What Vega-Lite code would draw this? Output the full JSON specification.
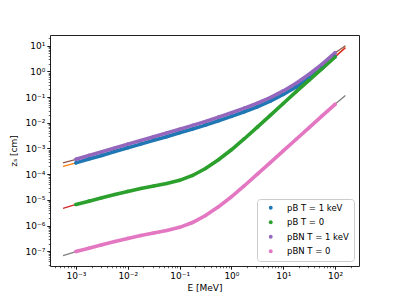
{
  "$schema": "https://vega.github.io/schema/vega-lite/v6.json",
  "width": 309,
  "height": 231,
  "autosize": {"type": "none"},
  "padding": {"left": 50, "top": 35, "right": 40, "bottom": 33},
  "background": "white",
  "config": {
    "font": "DejaVu Sans",
    "view": {"stroke": "#222222", "strokeWidth": 1},
    "axis": {
      "domain": false,
      "grid": false,
      "tickColor": "#000000",
      "labelColor": "#000000",
      "titleColor": "#000000",
      "labelFont": "DejaVu Sans",
      "titleFont": "DejaVu Sans",
      "labelFontSize": 9,
      "titleFontSize": 9,
      "titleFontWeight": "normal",
      "labelOverlap": false,
      "labelBound": false,
      "labelFlush": false
    },
    "legend": {
      "orient": "bottom-right",
      "offset": 5,
      "strokeColor": "#cccccc",
      "fillColor": "white",
      "cornerRadius": 3,
      "padding": 4.5,
      "symbolOffset": 5,
      "symbolType": "circle",
      "symbolSize": 15,
      "symbolStrokeWidth": 0,
      "labelFont": "DejaVu Sans",
      "labelFontSize": 8.5,
      "labelColor": "#000000",
      "rowPadding": 5.5,
      "labelOffset": 12
    }
  },
  "datasets": {
    "dots": [
      {"s": "pB T = 1 keV", "E": 0.001, "z": 2.754e-4},
      {"s": "pB T = 1 keV", "E": 0.001778, "z": 3.890e-4},
      {"s": "pB T = 1 keV", "E": 0.003162, "z": 5.370e-4},
      {"s": "pB T = 1 keV", "E": 0.005623, "z": 7.586e-4},
      {"s": "pB T = 1 keV", "E": 0.01, "z": 1.072e-3},
      {"s": "pB T = 1 keV", "E": 0.01778, "z": 1.479e-3},
      {"s": "pB T = 1 keV", "E": 0.03162, "z": 2.089e-3},
      {"s": "pB T = 1 keV", "E": 0.05623, "z": 2.884e-3},
      {"s": "pB T = 1 keV", "E": 0.1, "z": 4.074e-3},
      {"s": "pB T = 1 keV", "E": 0.1778, "z": 5.754e-3},
      {"s": "pB T = 1 keV", "E": 0.3162, "z": 8.128e-3},
      {"s": "pB T = 1 keV", "E": 0.5623, "z": 1.202e-2},
      {"s": "pB T = 1 keV", "E": 1, "z": 1.778e-2},
      {"s": "pB T = 1 keV", "E": 1.778, "z": 2.692e-2},
      {"s": "pB T = 1 keV", "E": 3.162, "z": 4.169e-2},
      {"s": "pB T = 1 keV", "E": 5.623, "z": 6.918e-2},
      {"s": "pB T = 1 keV", "E": 10, "z": 0.1259},
      {"s": "pB T = 1 keV", "E": 17.78, "z": 0.2455},
      {"s": "pB T = 1 keV", "E": 31.62, "z": 0.5370},
      {"s": "pB T = 1 keV", "E": 56.23, "z": 1.349},
      {"s": "pB T = 1 keV", "E": 100, "z": 3.802},
      {"s": "pB T = 0", "E": 0.001, "z": 6.607e-6},
      {"s": "pB T = 0", "E": 0.001778, "z": 8.913e-6},
      {"s": "pB T = 0", "E": 0.003162, "z": 1.202e-5},
      {"s": "pB T = 0", "E": 0.005623, "z": 1.622e-5},
      {"s": "pB T = 0", "E": 0.01, "z": 2.138e-5},
      {"s": "pB T = 0", "E": 0.01778, "z": 2.754e-5},
      {"s": "pB T = 0", "E": 0.03162, "z": 3.467e-5},
      {"s": "pB T = 0", "E": 0.05623, "z": 4.365e-5},
      {"s": "pB T = 0", "E": 0.1, "z": 5.754e-5},
      {"s": "pB T = 0", "E": 0.1778, "z": 8.913e-5},
      {"s": "pB T = 0", "E": 0.3162, "z": 1.660e-4},
      {"s": "pB T = 0", "E": 0.5623, "z": 3.631e-4},
      {"s": "pB T = 0", "E": 1, "z": 8.913e-4},
      {"s": "pB T = 0", "E": 1.778, "z": 2.399e-3},
      {"s": "pB T = 0", "E": 3.162, "z": 6.761e-3},
      {"s": "pB T = 0", "E": 5.623, "z": 1.950e-2},
      {"s": "pB T = 0", "E": 10, "z": 5.623e-2},
      {"s": "pB T = 0", "E": 17.78, "z": 0.1622},
      {"s": "pB T = 0", "E": 31.62, "z": 0.4571},
      {"s": "pB T = 0", "E": 56.23, "z": 1.288},
      {"s": "pB T = 0", "E": 100, "z": 3.631},
      {"s": "pBN T = 1 keV", "E": 0.001, "z": 3.802e-4},
      {"s": "pBN T = 1 keV", "E": 0.001778, "z": 5.370e-4},
      {"s": "pBN T = 1 keV", "E": 0.003162, "z": 7.413e-4},
      {"s": "pBN T = 1 keV", "E": 0.005623, "z": 1.047e-3},
      {"s": "pBN T = 1 keV", "E": 0.01, "z": 1.479e-3},
      {"s": "pBN T = 1 keV", "E": 0.01778, "z": 2.042e-3},
      {"s": "pBN T = 1 keV", "E": 0.03162, "z": 2.884e-3},
      {"s": "pBN T = 1 keV", "E": 0.05623, "z": 3.981e-3},
      {"s": "pBN T = 1 keV", "E": 0.1, "z": 5.623e-3},
      {"s": "pBN T = 1 keV", "E": 0.1778, "z": 7.943e-3},
      {"s": "pBN T = 1 keV", "E": 0.3162, "z": 1.122e-2},
      {"s": "pBN T = 1 keV", "E": 0.5623, "z": 1.660e-2},
      {"s": "pBN T = 1 keV", "E": 1, "z": 2.455e-2},
      {"s": "pBN T = 1 keV", "E": 1.778, "z": 3.715e-2},
      {"s": "pBN T = 1 keV", "E": 3.162, "z": 5.754e-2},
      {"s": "pBN T = 1 keV", "E": 5.623, "z": 9.550e-2},
      {"s": "pBN T = 1 keV", "E": 10, "z": 0.1738},
      {"s": "pBN T = 1 keV", "E": 17.78, "z": 0.3467},
      {"s": "pBN T = 1 keV", "E": 31.62, "z": 0.7762},
      {"s": "pBN T = 1 keV", "E": 56.23, "z": 1.905},
      {"s": "pBN T = 1 keV", "E": 100, "z": 5.248},
      {"s": "pBN T = 0", "E": 0.001, "z": 9.772e-8},
      {"s": "pBN T = 0", "E": 0.001778, "z": 1.318e-7},
      {"s": "pBN T = 0", "E": 0.003162, "z": 1.778e-7},
      {"s": "pBN T = 0", "E": 0.005623, "z": 2.399e-7},
      {"s": "pBN T = 0", "E": 0.01, "z": 3.162e-7},
      {"s": "pBN T = 0", "E": 0.01778, "z": 4.074e-7},
      {"s": "pBN T = 0", "E": 0.03162, "z": 5.129e-7},
      {"s": "pBN T = 0", "E": 0.05623, "z": 6.457e-7},
      {"s": "pBN T = 0", "E": 0.1, "z": 8.511e-7},
      {"s": "pBN T = 0", "E": 0.1778, "z": 1.318e-6},
      {"s": "pBN T = 0", "E": 0.3162, "z": 2.455e-6},
      {"s": "pBN T = 0", "E": 0.5623, "z": 5.370e-6},
      {"s": "pBN T = 0", "E": 1, "z": 1.318e-5},
      {"s": "pBN T = 0", "E": 1.778, "z": 3.548e-5},
      {"s": "pBN T = 0", "E": 3.162, "z": 1.0e-4},
      {"s": "pBN T = 0", "E": 5.623, "z": 2.818e-4},
      {"s": "pBN T = 0", "E": 10, "z": 8.128e-4},
      {"s": "pBN T = 0", "E": 17.78, "z": 2.291e-3},
      {"s": "pBN T = 0", "E": 31.62, "z": 6.457e-3},
      {"s": "pBN T = 0", "E": 56.23, "z": 1.862e-2},
      {"s": "pBN T = 0", "E": 100, "z": 5.248e-2}
    ],
    "model": [
      {"m": "fit pB T = 1 keV", "E": 0.000562, "z": 1.995e-4},
      {"m": "fit pB T = 1 keV", "E": 0.001, "z": 2.754e-4},
      {"m": "fit pB T = 1 keV", "E": 0.01, "z": 1.072e-3},
      {"m": "fit pB T = 1 keV", "E": 0.1, "z": 4.074e-3},
      {"m": "fit pB T = 1 keV", "E": 0.3162, "z": 8.128e-3},
      {"m": "fit pB T = 1 keV", "E": 1, "z": 1.778e-2},
      {"m": "fit pB T = 1 keV", "E": 3.162, "z": 4.169e-2},
      {"m": "fit pB T = 1 keV", "E": 10, "z": 0.1259},
      {"m": "fit pB T = 1 keV", "E": 31.62, "z": 0.5370},
      {"m": "fit pB T = 1 keV", "E": 100, "z": 3.802},
      {"m": "fit pB T = 1 keV", "E": 158.5, "z": 8.511},
      {"m": "fit pB T = 0", "E": 0.000562, "z": 4.677e-6},
      {"m": "fit pB T = 0", "E": 0.001, "z": 6.607e-6},
      {"m": "fit pB T = 0", "E": 0.01, "z": 2.138e-5},
      {"m": "fit pB T = 0", "E": 0.1, "z": 5.754e-5},
      {"m": "fit pB T = 0", "E": 0.3162, "z": 1.660e-4},
      {"m": "fit pB T = 0", "E": 1, "z": 8.913e-4},
      {"m": "fit pB T = 0", "E": 3.162, "z": 6.761e-3},
      {"m": "fit pB T = 0", "E": 10, "z": 5.623e-2},
      {"m": "fit pB T = 0", "E": 31.62, "z": 0.4571},
      {"m": "fit pB T = 0", "E": 100, "z": 3.631},
      {"m": "fit pB T = 0", "E": 158.5, "z": 8.318},
      {"m": "fit pBN T = 1 keV", "E": 0.000562, "z": 2.754e-4},
      {"m": "fit pBN T = 1 keV", "E": 0.001, "z": 3.802e-4},
      {"m": "fit pBN T = 1 keV", "E": 0.01, "z": 1.479e-3},
      {"m": "fit pBN T = 1 keV", "E": 0.1, "z": 5.623e-3},
      {"m": "fit pBN T = 1 keV", "E": 0.3162, "z": 1.122e-2},
      {"m": "fit pBN T = 1 keV", "E": 1, "z": 2.455e-2},
      {"m": "fit pBN T = 1 keV", "E": 3.162, "z": 5.754e-2},
      {"m": "fit pBN T = 1 keV", "E": 10, "z": 0.1738},
      {"m": "fit pBN T = 1 keV", "E": 31.62, "z": 0.7762},
      {"m": "fit pBN T = 1 keV", "E": 100, "z": 5.248},
      {"m": "fit pBN T = 1 keV", "E": 158.5, "z": 10.0},
      {"m": "fit pBN T = 0", "E": 0.000562, "z": 6.761e-8},
      {"m": "fit pBN T = 0", "E": 0.001, "z": 9.772e-8},
      {"m": "fit pBN T = 0", "E": 0.01, "z": 3.162e-7},
      {"m": "fit pBN T = 0", "E": 0.1, "z": 8.511e-7},
      {"m": "fit pBN T = 0", "E": 0.3162, "z": 2.455e-6},
      {"m": "fit pBN T = 0", "E": 1, "z": 1.318e-5},
      {"m": "fit pBN T = 0", "E": 3.162, "z": 1.0e-4},
      {"m": "fit pBN T = 0", "E": 10, "z": 8.128e-4},
      {"m": "fit pBN T = 0", "E": 31.62, "z": 6.457e-3},
      {"m": "fit pBN T = 0", "E": 100, "z": 5.248e-2},
      {"m": "fit pBN T = 0", "E": 158.5, "z": 0.1148}
    ]
  },
  "encoding": {
    "x": {
      "field": "E",
      "type": "quantitative",
      "scale": {"type": "log", "domain": [3.15e-4, 290], "nice": false},
      "axis": {
        "title": "E [MeV]",
        "titlePadding": 3,
        "labelPadding": 2.5,
        "values": [0.0004, 0.0005, 0.0006, 0.0007, 0.0008, 0.0009, 0.001, 0.002, 0.003, 0.004, 0.005, 0.006, 0.007, 0.008, 0.009, 0.01, 0.02, 0.03, 0.04, 0.05, 0.06, 0.07, 0.08, 0.09, 0.1, 0.2, 0.3, 0.4, 0.5, 0.6, 0.7, 0.8, 0.9, 1, 2, 3, 4, 5, 6, 7, 8, 9, 10, 20, 30, 40, 50, 60, 70, 80, 90, 100, 200],
        "labelExpr": "abs(log(datum.value)/LN10 - round(log(datum.value)/LN10)) < 1e-6 ? '10' + (round(log(datum.value)/LN10) < 0 ? '⁻' : '') + ['⁰','¹','²','³','⁴','⁵','⁶','⁷','⁸','⁹'][abs(round(log(datum.value)/LN10))] : ''",
        "tickSize": {"condition": {"test": "abs(log(datum.value)/LN10 - round(log(datum.value)/LN10)) < 1e-6", "value": 3.2}, "value": 1.8},
        "tickWidth": {"condition": {"test": "abs(log(datum.value)/LN10 - round(log(datum.value)/LN10)) < 1e-6", "value": 0.9}, "value": 0.6}
      }
    },
    "y": {
      "field": "z",
      "type": "quantitative",
      "scale": {"type": "log", "domain": [2.67e-8, 26.1], "nice": false},
      "axis": {
        "title": "zₛ [cm]",
        "titlePadding": 6,
        "labelPadding": 2,
        "values": [3e-8, 4e-8, 5e-8, 6e-8, 7e-8, 8e-8, 9e-8, 1e-7, 2e-7, 3e-7, 4e-7, 5e-7, 6e-7, 7e-7, 8e-7, 9e-7, 1e-6, 2e-6, 3e-6, 4e-6, 5e-6, 6e-6, 7e-6, 8e-6, 9e-6, 1e-5, 2e-5, 3e-5, 4e-5, 5e-5, 6e-5, 7e-5, 8e-5, 9e-5, 1e-4, 2e-4, 3e-4, 4e-4, 5e-4, 6e-4, 7e-4, 8e-4, 9e-4, 0.001, 0.002, 0.003, 0.004, 0.005, 0.006, 0.007, 0.008, 0.009, 0.01, 0.02, 0.03, 0.04, 0.05, 0.06, 0.07, 0.08, 0.09, 0.1, 0.2, 0.3, 0.4, 0.5, 0.6, 0.7, 0.8, 0.9, 1, 2, 3, 4, 5, 6, 7, 8, 9, 10, 20],
        "labelExpr": "abs(log(datum.value)/LN10 - round(log(datum.value)/LN10)) < 1e-6 ? '10' + (round(log(datum.value)/LN10) < 0 ? '⁻' : '') + ['⁰','¹','²','³','⁴','⁵','⁶','⁷','⁸','⁹'][abs(round(log(datum.value)/LN10))] : ''",
        "tickSize": {"condition": {"test": "abs(log(datum.value)/LN10 - round(log(datum.value)/LN10)) < 1e-6", "value": 3.2}, "value": 1.8},
        "tickWidth": {"condition": {"test": "abs(log(datum.value)/LN10 - round(log(datum.value)/LN10)) < 1e-6", "value": 0.9}, "value": 0.6}
      }
    }
  },
  "layer": [
    {
      "data": {"name": "model"},
      "mark": {"type": "line", "strokeWidth": 1.3},
      "encoding": {
        "stroke": {
          "field": "m",
          "type": "nominal",
          "legend": null,
          "scale": {
            "domain": ["pB T = 1 keV", "pB T = 0", "pBN T = 1 keV", "pBN T = 0", "fit pB T = 1 keV", "fit pB T = 0", "fit pBN T = 1 keV", "fit pBN T = 0"],
            "range": ["#1f77b4", "#2ca02c", "#9467bd", "#e377c2", "#ff7f0e", "#d62728", "#8c564b", "#7f7f7f"]
          }
        }
      }
    },
    {
      "data": {"name": "dots"},
      "mark": {"type": "line", "strokeWidth": 3.6, "strokeCap": "round"},
      "encoding": {
        "stroke": {"field": "s", "type": "nominal", "legend": null}
      }
    },
    {
      "data": {"name": "dots"},
      "mark": {"type": "point", "filled": true, "size": 13, "opacity": 1},
      "encoding": {
        "color": {
          "field": "s",
          "type": "nominal",
          "title": null,
          "scale": {
            "domain": ["pB T = 1 keV", "pB T = 0", "pBN T = 1 keV", "pBN T = 0"],
            "range": ["#1f77b4", "#2ca02c", "#9467bd", "#e377c2"]
          }
        }
      }
    }
  ]
}
